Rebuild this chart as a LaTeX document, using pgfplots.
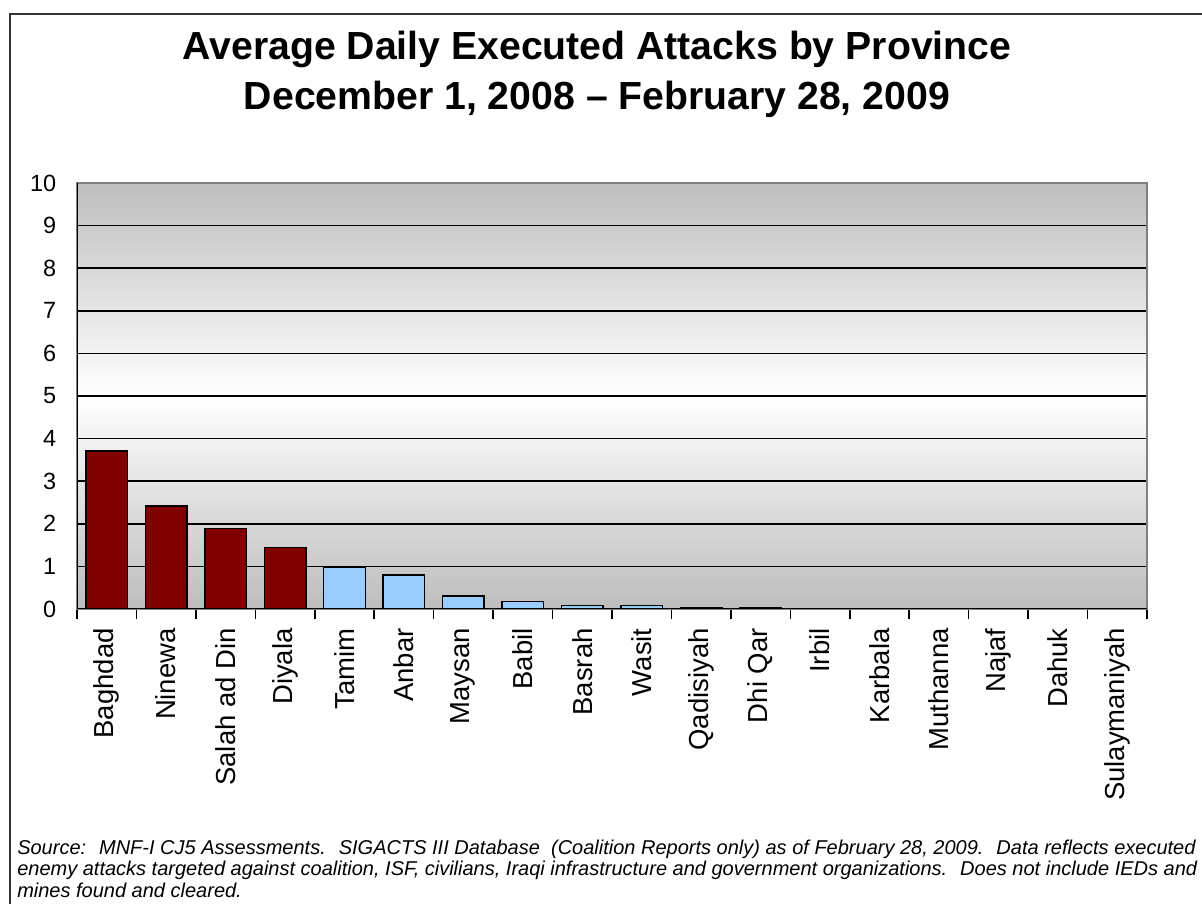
\documentclass[border=0pt]{standalone}
\usepackage{pgfplots}
\pgfplotsset{compat=1.18}
\usepackage{fontspec}
\setmainfont{Liberation Sans}

\definecolor{barred}{HTML}{800000}
\definecolor{barblue}{HTML}{99CCFF}
\definecolor{bgtop}{HTML}{BEBEBE}
\definecolor{bgbot}{HTML}{BDBDBD}

% provinces 0..17, first four in dark red
\pgfplotstableread{
x y
0 3.71
1 2.42
2 1.89
3 1.44
}\highdata
\pgfplotstableread{
x y
4 0.98
5 0.80
6 0.31
7 0.17
8 0.08
9 0.08
10 0.03
11 0.03
12 0
13 0
14 0
15 0
16 0
17 0
}\lowdata

\begin{document}
\begin{tikzpicture}
% 1 px of the reference = 0.75pt
\path[use as bounding box] (0pt,0pt) rectangle (901.5pt,677.25pt);
\fill[white] (0pt,0pt) rectangle (901.5pt,677.25pt);

% frame (right and bottom run off the page)
\draw[black!80, line width=1.5pt] (7.5pt,-10pt) -- (7.5pt,666.75pt) -- (915pt,666.75pt);

% title
\node[anchor=base, font=\fontsize{29.4}{34}\selectfont\bfseries] at (447.75pt,632.5pt)
  {Average Daily Executed Attacks by Province};
\node[anchor=base, font=\fontsize{29.4}{34}\selectfont\bfseries] at (447.75pt,595pt)
  {December 1, 2008 -- February 28, 2009};

\begin{axis}[
    at={(57.75pt,220.5pt)}, anchor=south west,
    scale only axis,
    width=802.5pt, height=319.5pt,
    ybar, bar shift=0pt, bar width=0.7,
    xmin=-0.5, xmax=17.5,
    ymin=0, ymax=10,
    ytick={0,...,10},
    xtick={0,...,17},
    xticklabels={Baghdad,Ninewa,Salah ad Din,Diyala,Tamim,Anbar,Maysan,Babil,Basrah,Wasit,Qadisiyah,Dhi Qar,Irbil,Karbala,Muthanna,Najaf,Dahuk,Sulaymaniyah},
    minor xtick={-0.5,0.5,...,17.5},
    major tick length=0pt,
    minor tick length=7.5pt,
    tick align=outside,
    xtick pos=bottom, ytick pos=left,
    tick style={black, line width=1.2pt},
    ymajorgrids,
    grid style={black, line width=1.3pt},
    axis line style={gray, line width=1pt},
    axis background/.style={top color=bgtop, bottom color=bgbot, middle color=white},
    /pgf/number format/assume math mode=true,
    yticklabel style={font=\fontsize{17.6}{20}\selectfont},
    yticklabel shift=12pt,
    xticklabel style={font=\fontsize{20.6}{24}\selectfont, rotate=90, anchor=east},
    xticklabel shift=11pt,
  ]
  \addplot[fill=barred, draw=black, line width=1.1pt] table[x=x,y=y] {\highdata};
  \addplot[fill=barblue, draw=black, line width=1.1pt] table[x=x,y=y] {\lowdata};
  \draw[black, line width=1.3pt] (rel axis cs:0,0) -- (rel axis cs:0,1);
  \draw[black, line width=1.3pt] (rel axis cs:0,0) -- (rel axis cs:1,0);
\end{axis}

% source note
\node[anchor=base west, align=left, inner sep=0pt,
      font=\fontsize{15}{16}\selectfont\itshape] at (12.75pt,4.5pt)
  {Source:~ MNF-I CJ5 Assessments.~ SIGACTS III Database~ (Coalition Reports only) as of February 28, 2009.~ Data reflects executed\\
   enemy attacks targeted against coalition, ISF, civilians, Iraqi infrastructure and government organizations.~ Does not include IEDs and\\
   mines found and cleared.};
\end{tikzpicture}
\end{document}
